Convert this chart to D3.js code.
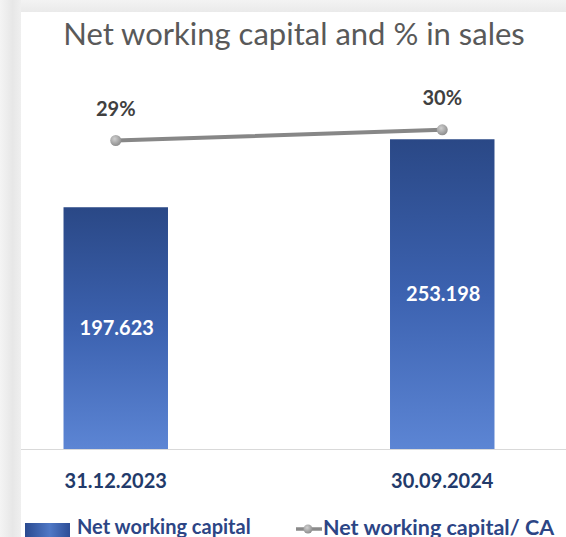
<!DOCTYPE html>
<html>
<head>
<meta charset="utf-8">
<script src="https://cdn.jsdelivr.net/npm/d3@7"></script>
<style>
  html, body { margin: 0; padding: 0; background: #ffffff; }
  svg { display: block; }
</style>
</head>
<body>
<svg id="chart" width="566" height="537"></svg>
<script>
// Net working capital (bars) and its share of sales (line, secondary scale)
const categories = ["31.12.2023", "30.09.2024"];
const netWorkingCapital = [197.623, 253.198];
const nwcToSales = [0.29, 0.30];
const barLabels = ["197.623", "253.198"];
const ratioLabels = ["29%", "30%"];
const seriesNames = ["Net working capital", "Net working capital/ CA"];
const title = "Net working capital and % in sales";

const W = 566, H = 537;
const FONT = "Lato, 'Open Sans', sans-serif";
const svg = d3.select("#chart");
const defs = svg.append("defs");

// frame backdrop
const sideGrad = defs.append("linearGradient").attr("id", "sideGrad")
  .attr("x1", 0).attr("x2", 1).attr("y1", 0).attr("y2", 0);
sideGrad.append("stop").attr("offset", "0%").attr("stop-color", "#f4f4f4");
sideGrad.append("stop").attr("offset", "60%").attr("stop-color", "#e7e7e7");
sideGrad.append("stop").attr("offset", "100%").attr("stop-color", "#efefef");
const topGrad = defs.append("linearGradient").attr("id", "topGrad")
  .attr("x1", 0).attr("x2", 0).attr("y1", 0).attr("y2", 1);
topGrad.append("stop").attr("offset", "0%").attr("stop-color", "#f3f3f3");
topGrad.append("stop").attr("offset", "100%").attr("stop-color", "#eaeaea");

svg.append("rect").attr("x", 0).attr("y", 0).attr("width", W).attr("height", 12)
  .attr("fill", "url(#topGrad)");
svg.append("rect").attr("x", 0).attr("y", 0).attr("width", 21).attr("height", H)
  .attr("fill", "url(#sideGrad)");

// bar fill
const barGrad = defs.append("linearGradient").attr("id", "barGrad")
  .attr("x1", 0).attr("x2", 0).attr("y1", 0).attr("y2", 1);
barGrad.append("stop").attr("offset", "0%").attr("stop-color", "#2a4886");
barGrad.append("stop").attr("offset", "50%").attr("stop-color", "#3c62b0");
barGrad.append("stop").attr("offset", "100%").attr("stop-color", "#5c85d4");

const swatchGrad = defs.append("linearGradient").attr("id", "swatchGrad")
  .attr("x1", 0).attr("x2", 1).attr("y1", 0).attr("y2", 0);
swatchGrad.append("stop").attr("offset", "0%").attr("stop-color", "#2a4a90");
swatchGrad.append("stop").attr("offset", "55%").attr("stop-color", "#4f78c6");
swatchGrad.append("stop").attr("offset", "100%").attr("stop-color", "#2c4d96");

const dotGrad = defs.append("radialGradient").attr("id", "dotGrad")
  .attr("cx", "40%").attr("cy", "35%").attr("r", "65%");
dotGrad.append("stop").attr("offset", "0%").attr("stop-color", "#cfcfcf");
dotGrad.append("stop").attr("offset", "100%").attr("stop-color", "#8e8e8e");

// scales
const x = d3.scaleBand(categories, [-47.5, 605.5]).paddingInner(0.68).paddingOuter(0.34);
const y = d3.scaleLinear([0, 300], [449, 82]);
const y2 = d3.scaleLinear([0, 0.345], [449, 82]);

// title
svg.append("text")
  .attr("x", 294).attr("y", 45)
  .attr("text-anchor", "middle")
  .attr("font-family", FONT)
  .attr("font-size", 31)
  .attr("fill", "#595959")
  .text(title);

// bars
const rows = categories.map((c, i) => ({ c, v: netWorkingCapital[i], r: nwcToSales[i], bl: barLabels[i], rl: ratioLabels[i] }));

svg.append("g").selectAll("rect").data(rows).join("rect")
  .attr("x", d => x(d.c))
  .attr("y", d => y(d.v))
  .attr("width", x.bandwidth())
  .attr("height", d => y(0) - y(d.v))
  .attr("fill", "url(#barGrad)");

svg.append("g").selectAll("text").data(rows).join("text")
  .attr("x", d => x(d.c) + x.bandwidth() / 2 + 1)
  .attr("y", d => (y(d.v) + y(0)) / 2 + 7)
  .attr("text-anchor", "middle")
  .attr("font-family", FONT)
  .attr("font-weight", 700)
  .attr("font-size", 20)
  .attr("fill", "#ffffff")
  .text(d => d.bl);

// category axis
const axis = svg.append("g").attr("transform", `translate(0,${y(0)})`)
  .call(d3.axisBottom(x).tickSize(0).tickPadding(25));
axis.select(".domain").remove();
axis.selectAll("text")
  .attr("font-family", FONT)
  .attr("font-weight", 700)
  .attr("font-size", 20)
  .attr("fill", "#223a6a");
svg.append("line")
  .attr("x1", 21).attr("x2", W)
  .attr("y1", y(0) + 0.5).attr("y2", y(0) + 0.5)
  .attr("stroke", "#d9d9d9").attr("stroke-width", 1.2);

// ratio line on the secondary scale
const line = d3.line()
  .x(d => x(d.c) + x.bandwidth() / 2)
  .y(d => y2(d.r));
svg.append("path").datum(rows)
  .attr("d", line)
  .attr("fill", "none")
  .attr("stroke", "#878787")
  .attr("stroke-width", 4)
  .attr("stroke-linecap", "round");
svg.append("g").selectAll("circle").data(rows).join("circle")
  .attr("cx", d => x(d.c) + x.bandwidth() / 2)
  .attr("cy", d => y2(d.r))
  .attr("r", 5.5)
  .attr("fill", "url(#dotGrad)");
svg.append("g").selectAll("text").data(rows).join("text")
  .attr("x", d => x(d.c) + x.bandwidth() / 2)
  .attr("y", d => y2(d.r) - 25)
  .attr("text-anchor", "middle")
  .attr("font-family", FONT)
  .attr("font-weight", 700)
  .attr("font-size", 20)
  .attr("fill", "#404040")
  .text(d => d.rl);

// legend
const lg = svg.append("g");
lg.append("rect").attr("x", 25).attr("y", 523).attr("width", 45).attr("height", 16)
  .attr("fill", "url(#swatchGrad)");
lg.append("text").attr("x", 77).attr("y", 534)
  .attr("font-family", FONT)
  .attr("font-weight", 700).attr("font-size", 20)
  .attr("fill", "#2c4585")
  .text(seriesNames[0]);
lg.append("line").attr("x1", 296).attr("x2", 322).attr("y1", 529).attr("y2", 529)
  .attr("stroke", "#8a8a8a").attr("stroke-width", 3.5);
lg.append("circle").attr("cx", 308).attr("cy", 529).attr("r", 4.5)
  .attr("fill", "url(#dotGrad)");
lg.append("text").attr("x", 323).attr("y", 535)
  .attr("font-family", FONT)
  .attr("font-weight", 700).attr("font-size", 21.5)
  .attr("fill", "#2c4585")
  .text(seriesNames[1]);
</script>
</body>
</html>
